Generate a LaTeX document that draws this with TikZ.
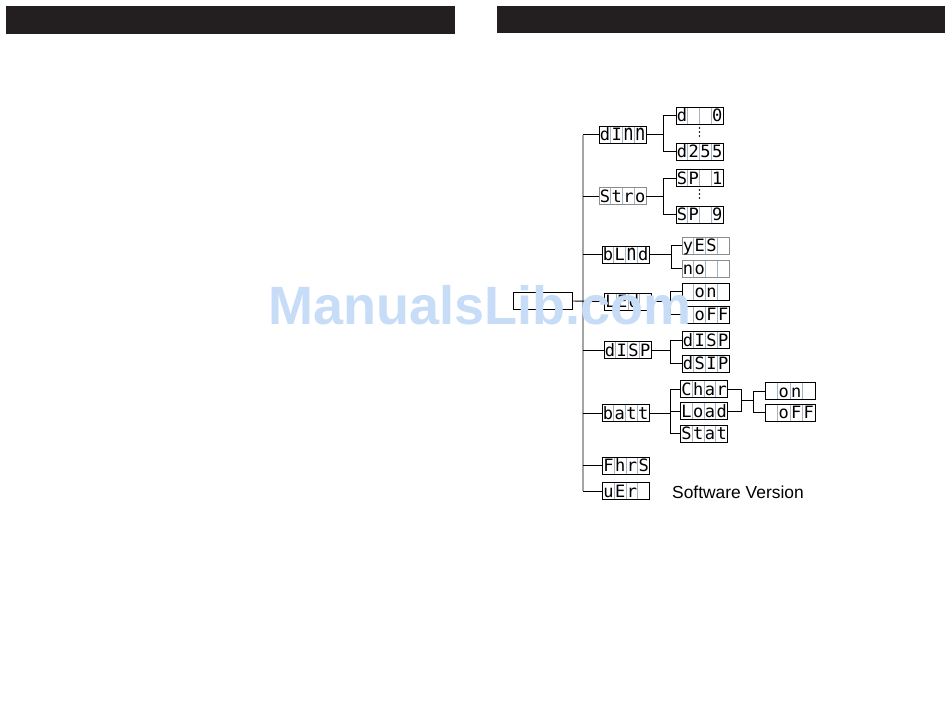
\documentclass[tikz,border=0pt]{standalone}
\usepackage{fontspec}
\usepackage{graphicx}
\setmainfont{Liberation Sans}
\newfontfamily\segfont{DejaVu Sans Mono}
\usetikzlibrary{calc}
\definecolor{barc}{HTML}{231F20}
\definecolor{divc}{RGB}{165,180,195}
\definecolor{spinec}{RGB}{165,165,165}
\definecolor{wmark}{RGB}{198,220,247}
\newlength\segcw
\setlength\segcw{11.75pt}
\newcommand\segcells[4]{\makebox[\segcw][c]{#1}\makebox[\segcw][c]{#2}\makebox[\segcw][c]{#3}\makebox[\segcw][c]{#4}}
\newcommand\tn{\scalebox{1}[1.3]{n}}
\tikzset{
  segbox/.style={draw=black, line width=0.9pt, minimum width=47pt, minimum height=17pt,
    inner sep=0pt, text height=14.8pt, text depth=2.2pt,
    font=\segfont\fontsize{17}{17}\selectfont,
    path picture={
      \path (path picture bounding box.south west) coordinate (psw)
            (path picture bounding box.north east) coordinate (pne);
      \foreach \f in {0.25,0.5,0.75}{
        \draw[divc, line width=0.6pt] ($(psw)!\f!(psw-|pne)$) -- ($(psw|-pne)!\f!(pne)$);
      }
    }},
  segwide/.style={segbox, minimum width=50pt},
  seggray/.style={segbox, draw={rgb,255:red,140;green,140;blue,140}},
  conn/.style={draw=black, line width=0.9pt},
  spine/.style={draw=spinec, line width=1.8pt}
}
\begin{document}
\begin{tikzpicture}[x=1pt,y=-1pt]
\useasboundingbox (0,0) rectangle (950,716);
% header bars
\fill[barc] (6,6) rectangle (455,34);
\fill[barc] (497,6) rectangle (945,33);

% root
\node[draw=black, line width=0.9pt, minimum width=59pt, minimum height=17pt, inner sep=0pt] (root) at (542.5,301) {};

% level 1
\node[segbox] (dimm) at (622.5,134.5) {\segcells{d}{I}{\tn}{\tn}};
\node[seggray] (stro) at (622.5,196) {\segcells{S}{t}{r}{o}};
\node[segbox] (blnd) at (625.5,254.5) {\segcells{b}{L}{\tn}{d}};
\node[segbox] (led) at (628,301.5) {\segcells{L}{E}{d}{}};
\node[segbox] (disp) at (627.5,350) {\segcells{d}{I}{S}{P}};
\node[segbox] (batt) at (625.5,413) {\segcells{b}{a}{t}{t}};
\node[segbox] (fhrs) at (626,465.5) {\segcells{F}{h}{r}{S}};
\node[segbox] (ver) at (626,491) {\segcells{u}{E}{r}{}};

% level 2
\node[segbox] (d0) at (699.5,115.5) {\segcells{d}{}{}{0}};
\node[segbox] (d255) at (699.5,151.5) {\segcells{d}{2}{5}{5}};
\node[segbox] (sp1) at (699.5,178) {\segcells{S}{P}{}{1}};
\node[segbox] (sp9) at (699.5,214.5) {\segcells{S}{P}{}{9}};
\node[seggray] (yes) at (705.5,245.5) {\segcells{y}{E}{S}{}};
\node[seggray] (no) at (705.5,268.5) {\segcells{n}{o}{}{}};
\node[segbox] (on) at (705.5,291.5) {\segcells{}{o}{n}{}};
\node[segbox] (off) at (705.5,314.5) {\segcells{}{o}{F}{F}};
\node[segbox] (dispa) at (705.5,340) {\segcells{d}{I}{S}{P}};
\node[segbox] (dsip) at (705.5,363.5) {\segcells{d}{S}{I}{P}};
\node[segbox] (char) at (704,389) {\segcells{C}{h}{a}{r}};
\node[segbox] (load) at (704,411) {\segcells{L}{o}{a}{d}};
\node[segbox] (stat) at (704,433.5) {\segcells{S}{t}{a}{t}};

% level 3
\node[segwide] (on2) at (790,391) {\setlength\segcw{12.5pt}\segcells{}{o}{n}{}};
\node[segwide] (off2) at (790,412.5) {\setlength\segcw{12.5pt}\segcells{}{o}{F}{F}};

% label
\node[anchor=base west, inner sep=0pt, font=\fontsize{17.4}{19}\selectfont] (swv) at (672,498) {Software Version};

% vertical ellipsis dots
\foreach \yy in {128,132,136} \fill (699.5,\yy) circle (0.9pt);
\foreach \yy in {190,194,198} \fill (699.5,\yy) circle (0.9pt);

% spine
\coordinate (sp) at (583,0);
\draw[spine] (dimm.west -| sp) -- (ver.west -| sp);
\foreach \n in {dimm,stro,blnd,disp,batt,fhrs,ver}{
  \draw[conn] (\n.west -| sp) -- (\n.west);
}
\draw[conn] (root.east) -- (led.west);

% branches
\coordinate (b1) at (663,0);
\draw[conn] (dimm.east) -- (dimm.east -| b1);
\draw[conn] (d0.west) -- (d0.west -| b1) -- (d255.west -| b1) -- (d255.west);
\draw[conn] (stro.east) -- (stro.east -| b1);
\draw[conn] (sp1.west) -- (sp1.west -| b1) -- (sp9.west -| b1) -- (sp9.west);

\coordinate (b2) at (671,0);
\draw[conn] (blnd.east) -- (blnd.east -| b2);
\draw[conn] (yes.west) -- (yes.west -| b2) -- (no.west -| b2) -- (no.west);

\coordinate (b3) at (670,0);
\draw[conn] (led.east) -- (led.east -| b3);
\draw[conn] (on.west) -- (on.west -| b3) -- (off.west -| b3) -- (off.west);
\draw[conn] (disp.east) -- (disp.east -| b3);
\draw[conn] (dispa.west) -- (dispa.west -| b3) -- (dsip.west -| b3) -- (dsip.west);
\draw[conn] (batt.east) -- (batt.east -| b3);
\draw[conn] (char.west) -- (char.west -| b3) -- (stat.west -| b3) -- (stat.west);
\draw[conn] (load.west) -- (load.west -| b3);

\coordinate (jm) at (741,400);
\coordinate (j2) at (753,400);
\draw[conn] (char.east) -- (char.east -| jm) -- (load.east -| jm) -- (load.east);
\draw[conn] (jm) -- (j2);
\draw[conn] (on2.west) -- (on2.west -| j2) -- (off2.west -| j2) -- (off2.west);

% watermark
\node[anchor=base, inner sep=0pt, text=wmark, font=\bfseries\fontsize{54}{54}\selectfont] (wm) at (480,324) {ManualsLib.com};
\end{tikzpicture}
\end{document}
